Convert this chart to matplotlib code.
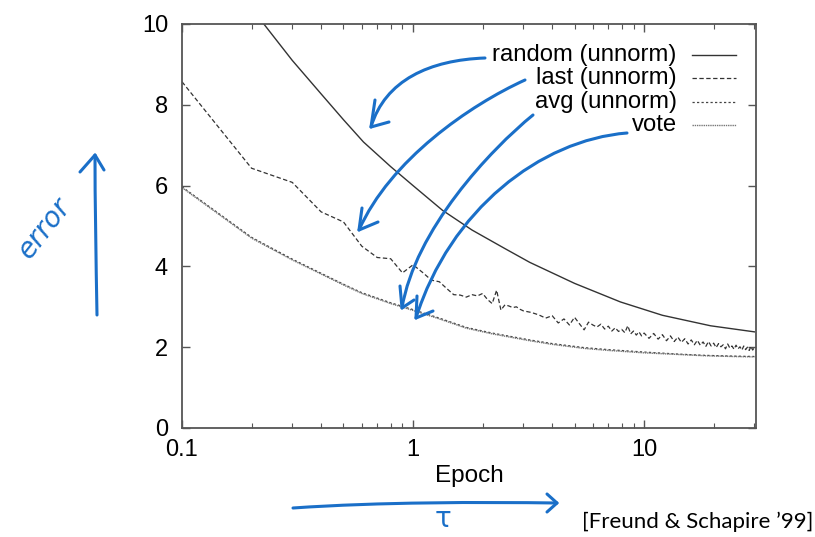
import matplotlib
matplotlib.use("Agg")
import matplotlib.pyplot as plt
from matplotlib.path import Path
from matplotlib.patches import PathPatch
from matplotlib.transforms import IdentityTransform

plt.rcParams['font.family'] = ['Liberation Sans', 'DejaVu Sans']

# data
random_x = [0.2, 0.226, 0.3, 0.4, 0.5, 0.61, 0.8, 1.0, 1.34, 1.8, 2.5, 3.2, 5.0, 7.9, 12.0, 19.4, 30.0]
random_y = [10.5, 10.0, 9.1, 8.27, 7.63, 7.08, 6.47, 6.0, 5.39, 4.90, 4.44, 4.10, 3.58, 3.12, 2.79, 2.53, 2.38]

last_x = [0.1, 0.2, 0.3, 0.4, 0.5, 0.6, 0.7, 0.8, 0.9, 1.0,
          1.1, 1.2, 1.3, 1.4, 1.5, 1.6, 1.7, 1.8, 1.9, 2.0,
          2.1, 2.2, 2.3, 2.4, 2.5, 2.6, 2.7, 2.8, 2.9, 3.0,
          3.25, 3.5, 3.75, 4.0, 4.25, 4.5, 4.75, 5.0, 5.25, 5.5,
          5.75, 6.0, 6.25, 6.5, 6.75, 7.0, 7.25, 7.5, 7.75, 8.0,
          8.25, 8.5, 8.75, 9.0, 9.25, 9.5, 9.75, 10.0,
          10.5, 11, 11.5, 12, 12.5, 13, 13.5, 14, 14.5, 15,
          15.5, 16, 16.5, 17, 17.5, 18, 18.5, 19, 19.5, 20,
          20.5, 21, 21.5, 22, 22.5, 23, 23.5, 24, 24.5, 25,
          25.5, 26, 26.5, 27, 27.5, 28, 28.5, 29, 29.5, 30]
last_y = [8.57, 6.43, 6.08, 5.35, 5.10, 4.50, 4.22, 4.19, 3.84, 4.04,
          3.85, 3.66, 3.62, 3.45, 3.30, 3.29, 3.24, 3.30, 3.27, 3.33,
          3.18, 3.08, 3.41, 2.92, 3.05, 3.02, 2.98, 3.00, 2.94, 2.90,
          2.86, 2.80, 2.72, 2.78, 2.60, 2.70, 2.55, 2.74, 2.58, 2.43,
          2.62, 2.55, 2.50, 2.57, 2.45, 2.52, 2.40, 2.48, 2.39, 2.44,
          2.36, 2.53, 2.33, 2.40, 2.30, 2.38, 2.28, 2.35,
          2.22, 2.34, 2.20, 2.31, 2.16, 2.28, 2.14, 2.25, 2.12, 2.21,
          2.08, 2.18, 2.06, 2.17, 2.05, 2.13, 2.02, 2.14, 2.03, 2.10,
          1.99, 2.09, 2.01, 2.06, 1.96, 2.08, 1.98, 2.03, 1.95, 2.05,
          1.96, 2.01, 1.93, 2.03, 1.94, 2.00, 1.92, 2.02, 1.93, 1.99]

smooth_x = [0.1, 0.2, 0.3, 0.4, 0.5, 0.6, 0.8, 1.0, 1.3, 1.7, 2.2, 3.2, 4.0, 5.5, 7.0, 10.0, 14.0, 18.0, 24.0, 30.0]
avg_y = [5.97, 4.72, 4.18, 3.83, 3.56, 3.35, 3.10, 2.93, 2.72, 2.49, 2.35, 2.18, 2.09, 1.99, 1.94, 1.88, 1.83, 1.80, 1.78, 1.77]
vote_y = [5.95, 4.70, 4.16, 3.81, 3.54, 3.33, 3.08, 2.91, 2.70, 2.47, 2.33, 2.16, 2.07, 1.97, 1.92, 1.86, 1.82, 1.79, 1.77, 1.76]

labels = ['random (unnorm)', 'last (unnorm)', 'avg (unnorm)', 'vote']
styles = [dict(color='#333333', lw=1.0, ls='-'),
          dict(color='#333333', lw=0.9, ls=(0, (3.5, 2))),
          dict(color='#444444', lw=0.9, ls=(0, (1.8, 1.8))),
          dict(color='#777777', lw=1.0, ls=(0, (1, 0.6)))]

W, H = 815, 537
fig = plt.figure(figsize=(W / 100, H / 100), dpi=100)
ax = fig.add_axes([182 / W, 1 - 428 / H, 574 / W, 404 / H])

series = [(random_x, random_y), (last_x, last_y), (smooth_x, avg_y), (smooth_x, vote_y)]
for (xs, ys), st in zip(series, styles):
    ax.plot(xs, ys, **st)

ax.set_xscale('log')
ax.set_xlim(0.1, 30.5)
ax.set_ylim(0, 10)
ax.set_xticks([0.1, 1, 10])
ax.set_xticklabels(['0.1', '1', '10'])
ax.set_yticks([0, 2, 4, 6, 8, 10])
ax.tick_params(which='both', direction='in', top=True, right=True, colors='#555555',
               labelcolor='black', labelsize=17)
ax.tick_params(which='major', length=6, width=1)
ax.tick_params(which='minor', length=3.5, width=0.8)
ax.tick_params(axis='y', pad=10)
ax.tick_params(axis='x', pad=8)
for s in ax.spines.values():
    s.set_color('#555555')
    s.set_linewidth(1.3)
ax.set_xlabel('Epoch', fontsize=17.5, labelpad=3)

# legend, gnuplot style: right-aligned text with sample on the right
rows = [0.923, 0.866, 0.808, 0.750]
for lab, st, yy in zip(labels, styles, rows):
    ax.text(0.862, yy, lab, transform=ax.transAxes, ha='right', va='center', fontsize=17.2)
    ax.plot([0.889, 0.965], [yy, yy], transform=ax.transAxes, **st)

# handwritten blue annotations (image pixel coords)
blue = '#1a6fc8'
ident = IdentityTransform()


def pt(x, y):
    return (x, H - y)


def curve(p0, p1, p2, p3):
    verts = [pt(*p0), pt(*p1), pt(*p2), pt(*p3)]
    codes = [Path.MOVETO, Path.CURVE4, Path.CURVE4, Path.CURVE4]
    fig.add_artist(PathPatch(Path(verts, codes), fill=False, ec=blue, lw=2.2,
                             transform=ident, capstyle='round'))


def head(tip, a, b):
    verts = [pt(*a), pt(*tip), pt(*b)]
    codes = [Path.MOVETO, Path.LINETO, Path.LINETO]
    fig.add_artist(PathPatch(Path(verts, codes), fill=False, ec=blue, lw=2.2,
                             transform=ident, capstyle='round', joinstyle='round'))


curve((485, 58), (430, 60), (385, 80), (371, 127))
head((371, 127), (375, 100), (389, 122))
curve((525, 80), (470, 105), (390, 160), (359, 230))
head((359, 230), (362, 208), (378, 222))
curve((533, 115), (490, 150), (415, 230), (402, 308))
head((402, 308), (400, 286), (414, 300))
curve((627, 133), (540, 140), (450, 210), (416, 318))
head((416, 318), (417, 296), (433, 311))

curve((97, 315), (96, 260), (95, 200), (95, 155))
head((95, 155), (80, 172), (104, 170))
fig.text(44 / W, 1 - 228 / H, 'error', color=blue, fontsize=20, rotation=52,
         ha='center', va='center', family='DejaVu Sans', style='italic')

curve((293, 508), (380, 502), (480, 502), (557, 503))
head((557, 503), (547, 494), (547, 512))
fig.text(443 / W, 1 - 519 / H, 'τ', color=blue, fontsize=20, ha='center', va='center',
         family='DejaVu Sans')

fig.text(813 / W, 1 - 522 / H, '[Freund & Schapire \u201999]', fontsize=16,
         ha='right', va='center', family=['Lato', 'DejaVu Sans'])

fig.savefig('out.png', dpi=100)
